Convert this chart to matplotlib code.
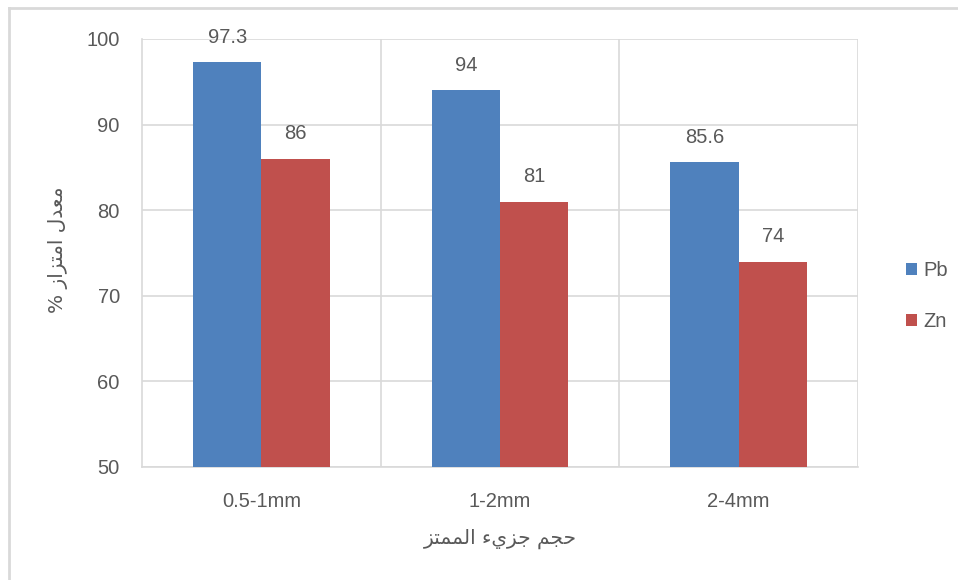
import matplotlib
matplotlib.use("Agg")
import numpy as np
import matplotlib.pyplot as plt
from matplotlib.lines import Line2D

categories = ["0.5-1mm", "1-2mm", "2-4mm"]
pb_values = [97.3, 94, 85.6]
zn_values = [86, 81, 74]
series_names = ["Pb", "Zn"]

# Arabic labels, already shaped (presentation forms) and in visual order,
# since matplotlib does no bidi/joining on its own.
# "معدل امتزاز %"
ylabel_ar = "% \ufeaf\ufe8d\ufeb0\ufe98\ufee3\ufe8d \ufedd\ufeaa\ufecc\ufee3"
# "حجم جزيء الممتز"
xlabel_ar = "\ufeb0\ufe98\ufee4\ufee4\ufedf\ufe8d \ufe80\ufef1\ufeb0\ufe9f \ufee2\ufea0\ufea3"

blue = "#4F81BD"
red = "#C0504D"
grid_c = "#D9D9D9"
text_c = "#595959"
fs = 14.5

plt.rcParams["font.family"] = ["Liberation Sans", "DejaVu Sans"]

fig = plt.figure(figsize=(9.58, 5.8), dpi=100)
ax = fig.add_axes([142 / 958, 1 - 467 / 580, 716 / 958, 428 / 580])

x = np.arange(len(categories))
w = 1 / 3.5  # excel gap width 150%
b1 = ax.bar(x - w / 2, pb_values, w, color=blue, label=series_names[0], zorder=3)
b2 = ax.bar(x + w / 2, zn_values, w, color=red, label=series_names[1], zorder=3)

for bars, vals in ((b1, pb_values), (b2, zn_values)):
    for bar, v in zip(bars, vals):
        ax.annotate("{:g}".format(v), (bar.get_x() + bar.get_width() / 2, v),
                    xytext=(0, 18), textcoords="offset points",
                    ha="center", va="center", fontsize=fs, color=text_c)

ax.set_xlim(-0.5, 2.5)
ax.set_ylim(50, 100)
ax.set_yticks(np.arange(50, 101, 10))
ax.set_xticks(x)
ax.set_xticklabels(categories)
ax.set_xticks([0.5, 1.5, 2.5], minor=True)
ax.tick_params(axis="both", which="both", length=0, labelsize=fs, labelcolor=text_c)
ax.tick_params(axis="x", pad=18)
ax.tick_params(axis="y", pad=16)

ax.grid(axis="y", color=grid_c, linewidth=1.2, zorder=0)
ax.grid(axis="x", which="minor", color=grid_c, linewidth=1.2, zorder=0)
for s in ["top", "right"]:
    ax.spines[s].set_visible(False)
for s in ["left", "bottom"]:
    ax.spines[s].set_color(grid_c)
    ax.spines[s].set_linewidth(1.2)

fig.text(58 / 958, 1 - 250 / 580, ylabel_ar, rotation=90, ha="center", va="center",
         fontsize=fs, color=text_c, family=["DejaVu Sans"])
fig.text(500 / 958, 1 - 539 / 580, xlabel_ar, ha="center", va="center",
         fontsize=fs, color=text_c, family=["DejaVu Sans"])

leg = fig.legend(handles=[b1, b2], loc="center left", bbox_to_anchor=(896 / 958, 1 - 296 / 580),
                 frameon=False, fontsize=fs, labelcolor=text_c, borderpad=0,
                 handlelength=0.55, handleheight=0.55, handletextpad=0.3, labelspacing=1.6)

# chart border (left and top edges)
fig.add_artist(Line2D([9 / 958, 9 / 958], [0, 1 - 8 / 580], transform=fig.transFigure,
                      color=grid_c, linewidth=2))
fig.add_artist(Line2D([9 / 958, 1], [1 - 8 / 580, 1 - 8 / 580], transform=fig.transFigure,
                      color=grid_c, linewidth=2))

fig.savefig("out.png", dpi=100)
